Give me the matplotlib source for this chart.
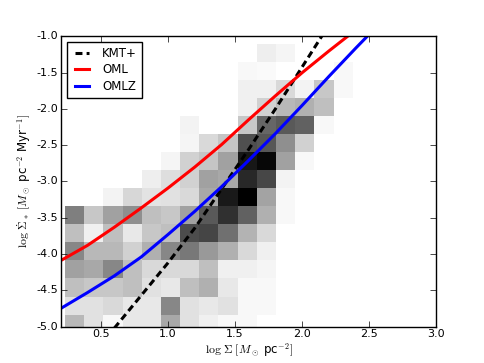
import numpy as np
import matplotlib
matplotlib.use("Agg")
from matplotlib import pyplot as plt

plt.style.use('classic')
plt.rcParams['mathtext.fontset'] = 'cm'
plt.rcParams['font.family'] = 'DejaVu Sans'

# 2D histogram of the sample (bin edges and counts per cell, bottom row first)
x_edges = np.linspace(0.232, 2.377, 16)
y_edges = np.linspace(-5.082, -1.101, 17)
counts = np.array([
    [28, 12, 3, 9, 9, 34, 12, 6, 3, 3, 0, 0, 0, 0, 0],
    [12, 12, 15, 9, 9, 47, 12, 9, 12, 3, 3, 0, 0, 0, 0],
    [25, 22, 22, 25, 12, 9, 25, 31, 9, 3, 3, 0, 0, 0, 0],
    [37, 34, 47, 25, 15, 15, 15, 25, 6, 6, 4, 0, 0, 0, 0],
    [47, 28, 28, 18, 31, 47, 53, 40, 31, 15, 6, 0, 0, 0, 0],
    [25, 6, 25, 9, 22, 25, 70, 73, 56, 30, 15, 0, 0, 0, 0],
    [50, 22, 37, 44, 25, 22, 37, 65, 81, 62, 31, 3, 0, 0, 0],
    [0, 0, 5, 16, 11, 12, 15, 34, 90, 100, 36, 3, 0, 0, 0],
    [0, 0, 0, 0, 7, 13, 18, 37, 34, 84, 72, 5, 0, 0, 0],
    [0, 0, 0, 0, 0, 4, 18, 23, 37, 91, 97, 37, 3, 0, 0],
    [0, 0, 0, 0, 0, 0, 4, 15, 23, 69, 66, 44, 18, 0, 0],
    [0, 0, 0, 0, 0, 0, 5, 0, 0, 22, 60, 65, 62, 3, 0],
    [0, 0, 0, 0, 0, 0, 0, 0, 0, 6, 18, 28, 31, 25, 0],
    [0, 0, 0, 0, 0, 0, 0, 0, 0, 6, 6, 15, 5, 22, 3],
    [0, 0, 0, 0, 0, 0, 0, 0, 0, 3, 2, 0, 0, 0, 3],
    [0, 0, 0, 0, 0, 0, 0, 0, 0, 0, 7, 4, 0, 0, 0],
])

# model curves
kmt_x = [0.6, 0.8, 1.0, 1.2, 1.4, 1.6, 1.8, 2.0, 2.2]
kmt_y = [-5.02, -4.57, -4.12, -3.64, -3.10, -2.56, -2.00, -1.42, -0.84]
oml_x = [0.2, 0.4, 0.6, 0.8, 1.0, 1.2, 1.4, 1.6, 1.8, 2.0, 2.2, 2.4]
oml_y = [-4.09, -3.88, -3.63, -3.365, -3.09, -2.80, -2.49, -2.15, -1.82, -1.50, -1.20, -0.91]
omlz_x = [0.2, 0.4, 0.6, 0.8, 1.0, 1.2, 1.4, 1.6, 1.8, 2.0, 2.2, 2.4, 2.6]
omlz_y = [-4.75, -4.53, -4.30, -4.04, -3.73, -3.41, -3.07, -2.71, -2.34, -1.95, -1.55, -1.16, -0.78]

fig = plt.figure(figsize=(4.85, 3.63), dpi=100, facecolor='white')
ax = fig.add_axes([0.125, 0.1, 0.775, 0.8])

ax.pcolormesh(x_edges, y_edges, counts, cmap='gray_r', vmin=0, vmax=100)

ax.plot(kmt_x, kmt_y, color='black', lw=2.2, dashes=(5, 3), label='KMT+')
ax.plot(oml_x, oml_y, color='red', lw=2.2, label='OML')
ax.plot(omlz_x, omlz_y, color='blue', lw=2.2, label='OMLZ')

ax.set_xlim(0.2, 3.0)
ax.set_ylim(-5.0, -1.0)
ax.set_xticks(np.arange(0.5, 3.01, 0.5))
ax.set_yticks(np.arange(-5.0, -0.99, 0.5))
ax.tick_params(labelsize=8, direction='in', length=4, pad=2, top=True, right=True)
ax.xaxis.set_major_formatter(matplotlib.ticker.FormatStrFormatter('%.1f'))
ax.yaxis.set_major_formatter(matplotlib.ticker.FormatStrFormatter('%.1f'))

ax.set_xlabel(r'$\log\,\Sigma\;[M_\odot$ pc$^{-2}]$', fontsize=8.5, labelpad=1)
ax.set_ylabel(r'$\log\,\dot\Sigma_*\;[M_\odot$ pc$^{-2}$ Myr$^{-1}]$', fontsize=8.5, labelpad=2)

ax.legend(loc='upper left', fontsize=8.5, handlelength=1.8, fancybox=False,
          numpoints=2, borderpad=0.4, labelspacing=0.3)

fig.savefig('out.png', dpi=100, facecolor='white')
